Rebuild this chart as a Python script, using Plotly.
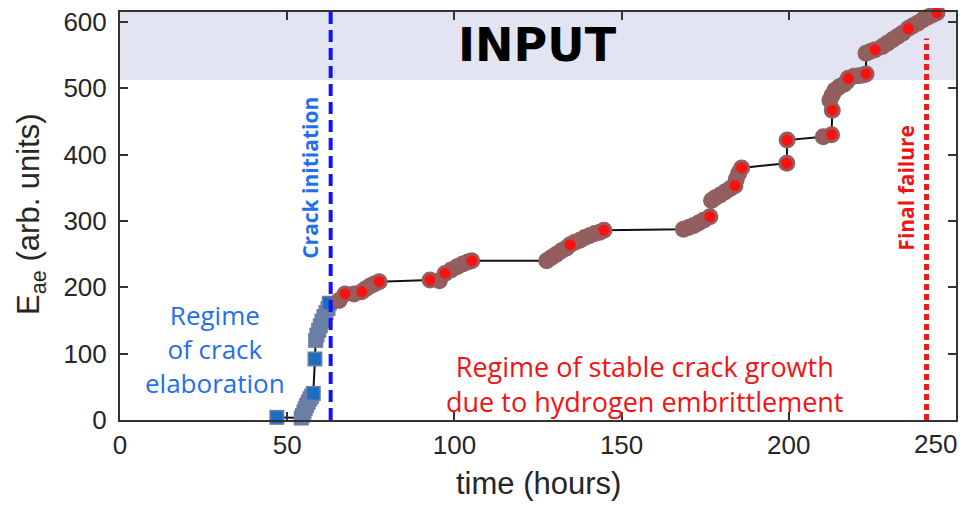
import plotly.graph_objects as go

# ---------------- data ----------------
# Regime of crack elaboration (squares)
sq_time = [46.9, 54.2, 54.6, 55.0, 55.4, 55.8, 56.3, 56.8, 57.3, 57.8, 58.3,
           58.5, 58.9, 59.4, 59.9, 60.4, 61.0, 61.6, 62.2, 62.6]
sq_energy = [4, 3, 7, 12, 17, 22, 27, 32, 36, 40, 92,
             120, 128, 135, 142, 149, 156, 162, 168, 176]
sq_highlight = [0, 9, 10, 19]  # indices of bright-blue squares

# Regime of stable crack growth (circles)
ci_time = [65.5, 67.3, 70.0, 72.3, 73.5, 74.8, 76.0, 77.5, 92.7,
           95.5, 97.2, 99.0, 100.8, 102.5, 104.0, 105.2,
           127.6, 129.0, 130.5, 132.0, 133.4, 134.6, 136.0, 137.5, 139.0, 140.5, 142.0, 143.5, 144.7,
           168.5, 170.0, 171.5, 173.0, 174.5, 176.4,
           176.9, 178.0, 179.5, 181.0, 182.5, 183.9, 184.3, 185.0, 185.9,
           199.4, 199.5, 210.3, 212.8, 213.0,
           212.3, 213.0, 213.8, 215.0, 216.5, 217.3, 217.8, 219.5, 221.0, 222.3, 223.1,
           223.1, 224.5, 225.8,
           228.0, 229.5, 231.0, 232.5, 234.0, 235.7, 237.0, 238.5, 240.0, 241.5, 243.0, 244.3]
ci_energy = [180, 190, 190, 193.5, 198, 202, 205, 208.5, 211,
             210, 221, 226, 231, 235, 238, 240,
             240, 245, 250, 255, 259, 264, 268, 271, 275, 278, 281, 283, 286,
             287.5, 290, 293, 297, 301, 306.5,
             331, 335, 339, 344, 349, 353, 363, 372, 380,
             387, 422, 427, 430, 467,
             482, 490, 497, 502, 506, 510, 515, 518, 519, 520, 521.6,
             553, 556, 558,
             563, 568, 573, 578, 583, 590, 594, 598, 603, 607, 611, 614]
ci_highlight = [1, 3, 7, 8, 10, 15, 21, 28, 34, 40, 43, 44, 45, 47, 48,
                55, 59, 62, 68, 74]  # indices of red-centred circles

crack_initiation_t = 63.0
final_failure_t = 241.2
final_failure_top = 575
input_band = [512.6, 615]

x_ticks = [0, 50, 100, 150, 200]
last_x_tick = 250          # drawn as a right-aligned label at the axis end
y_ticks = [0, 100, 200, 300, 400, 500, 600]

# ---------------- figure ----------------
fig = go.Figure()

all_t = sq_time + ci_time
all_e = sq_energy + ci_energy
fig.add_trace(go.Scatter(x=all_t, y=all_e, mode="lines",
                         line=dict(color="#111111", width=2), hoverinfo="skip"))

fig.add_trace(go.Scatter(x=sq_time, y=sq_energy, mode="markers", cliponaxis=False,
                         marker=dict(symbol="square", size=15, color="#6b7ea6")))
fig.add_trace(go.Scatter(x=[sq_time[i] for i in sq_highlight],
                         y=[sq_energy[i] for i in sq_highlight], mode="markers", cliponaxis=False,
                         marker=dict(symbol="square", size=12, color="#1a6ec0")))

fig.add_trace(go.Scatter(x=ci_time, y=ci_energy, mode="markers", cliponaxis=False,
                         marker=dict(symbol="circle", size=17, color="#935e5e")))
fig.add_trace(go.Scatter(x=[ci_time[i] for i in ci_highlight],
                         y=[ci_energy[i] for i in ci_highlight], mode="markers", cliponaxis=False,
                         marker=dict(symbol="circle", size=11, color="#ff1010")))

shapes = [
    dict(type="rect", xref="paper", yref="y", x0=0, x1=1, y0=input_band[0], y1=input_band[1],
         fillcolor="#e3e4f1", line=dict(width=0), layer="below"),
    dict(type="line", xref="x", yref="y", x0=crack_initiation_t, x1=crack_initiation_t,
         y0=0, y1=input_band[1], line=dict(color="#1414f0", width=4, dash="12px,6px"), layer="above"),
    dict(type="line", xref="x", yref="y", x0=final_failure_t, x1=final_failure_t,
         y0=0, y1=final_failure_top, line=dict(color="#f01818", width=5, dash="6px,4px"), layer="above"),
]

blue_txt = "#1f6ff0"
red_txt = "#f01414"
ann = [
    dict(x=124.7, y=565, text="<b>INPUT</b>", font=dict(family="DejaVu Sans", size=46, color="black")),
    dict(x=56.8, y=365, text="<b>Crack initiation</b>", textangle=-90,
         font=dict(family="Open Sans", size=21, color=blue_txt)),
    dict(x=235.0, y=350, text="<b>Final failure</b>", textangle=-90,
         font=dict(family="Open Sans", size=21, color=red_txt)),
    dict(x=157.0, y=54, text="Regime of stable crack growth<br>due to hydrogen embrittlement",
         font=dict(family="Open Sans", size=27, color=red_txt)),
    dict(x=28.4, y=106.5, text="Regime<br>of crack<br>elaboration",
         font=dict(family="Open Sans", size=26, color=blue_txt)),
]
for a in ann:
    a.update(xref="x", yref="y", showarrow=False, xanchor="center", yanchor="middle", align="center")

tick_font = dict(family="Liberation Sans", size=26, color="#262626")
# last x tick label, right-aligned at the axis end as in the reference
ann.append(dict(xref="x", yref="paper", x=last_x_tick, y=-0.059, xshift=3, showarrow=False,
                text=str(last_x_tick), xanchor="right", yanchor="middle", font=tick_font))

# axis titles
ann.append(dict(xref="paper", yref="paper", x=0.5, y=-0.155, showarrow=False,
                text="time (hours)", xanchor="center", yanchor="middle",
                font=dict(family="Liberation Sans", size=31, color="#262626")))
ann.append(dict(xref="paper", yref="paper", x=-0.1065, y=0.505, showarrow=False,
                text="E<sub>ae</sub> (arb. units)", textangle=-90, xanchor="center", yanchor="middle",
                font=dict(family="Liberation Sans", size=31, color="#262626")))

axis_common = dict(showline=True, linecolor="#333333", linewidth=2, mirror="ticks",
                   ticks="inside", ticklen=8, tickwidth=1.5, tickcolor="#333333",
                   showgrid=False, zeroline=False, automargin=False,
                   ticklabeloverflow="allow", tickfont=tick_font)

# the page body adds an 8px margin on each side, so the figure is sized to fit the window
fig.update_layout(
    width=963, height=494,
    margin=dict(l=112, r=15, t=4, b=82, autoexpand=False),
    paper_bgcolor="white", plot_bgcolor="white",
    showlegend=False,
    shapes=shapes, annotations=ann,
    xaxis=dict(range=[0, 250], tickvals=x_ticks, ticklabelstandoff=1, **axis_common),
    yaxis=dict(range=[0, 615], tickvals=y_ticks, ticklabelstandoff=6, **axis_common),
)

fig.write_html("out.html")
